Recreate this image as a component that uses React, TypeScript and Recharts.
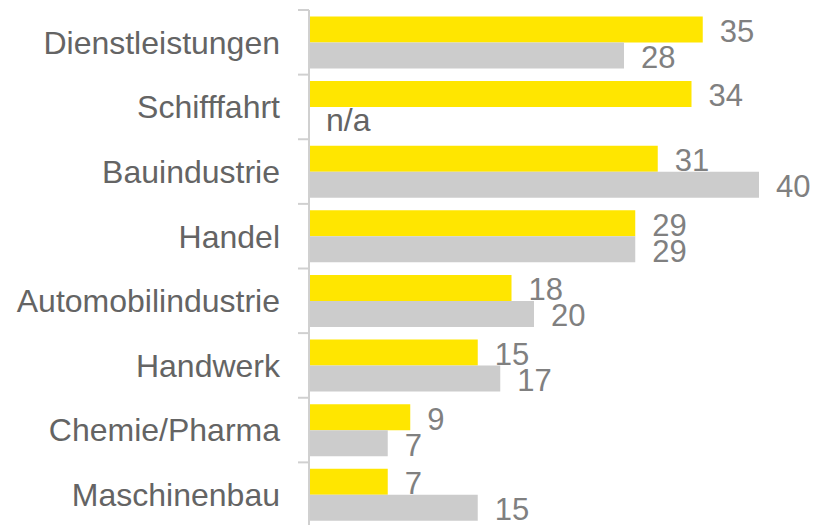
import React from 'react';
import { BarChart, Bar, XAxis, YAxis, LabelList } from 'recharts';

const categories = [
  'Dienstleistungen',
  'Schifffahrt',
  'Bauindustrie',
  'Handel',
  'Automobilindustrie',
  'Handwerk',
  'Chemie/Pharma',
  'Maschinenbau',
];
const yellowValues = [35, 34, 31, 29, 18, 15, 9, 7];
const grayValues: (number | null)[] = [28, null, 40, 29, 20, 17, 7, 15];
const missingLabel = 'n/a';

const data = categories.map((name, i) => ({
  name,
  yellow: yellowValues[i],
  gray: grayValues[i] ?? 0,
  grayLabel: grayValues[i] === null ? '' : String(grayValues[i]),
}));

const FONT = 'Liberation Sans, Arial, sans-serif';
const TICK_MARGIN = 29;
const TICK_LEN = 11;
const LABEL_OFFSET = 17;
const AXIS_COLOR = '#d0d0d0';
const CAT_COLOR = '#646464';
const NUM_COLOR = '#808080';

const CategoryTick = (props: any) => {
  const { x, y, payload } = props;
  const axisX = x + TICK_MARGIN;
  const off = payload.offset ?? 0;
  const isLast = payload.index === categories.length - 1;
  return (
    <g>
      <line x1={axisX - TICK_LEN} x2={axisX} y1={y - off} y2={y - off} stroke={AXIS_COLOR} strokeWidth={2} />
      {isLast && (
        <line x1={axisX - TICK_LEN} x2={axisX} y1={y + off} y2={y + off} stroke={AXIS_COLOR} strokeWidth={2} />
      )}
      <text x={x} y={y} dy="0.355em" textAnchor="end" fill={CAT_COLOR} fontSize={32} fontFamily={FONT}>
        {payload.value}
      </text>
    </g>
  );
};

const ValueLabel = (props: any) => {
  const { x, y, width, height, value } = props;
  if (value === '' || value === null || value === undefined) return null;
  return (
    <text
      x={x + width + LABEL_OFFSET}
      y={y + height / 2}
      dy="0.4em"
      textAnchor="start"
      fill={NUM_COLOR}
      fontSize={31}
      fontFamily={FONT}
    >
      {value}
    </text>
  );
};

// Yellow label; also places the "n/a" marker in the (empty) gray slot below it.
const YellowLabel = (props: any) => {
  const { x, y, height, index } = props;
  const missing = index !== undefined && grayValues[index] === null;
  return (
    <g>
      <ValueLabel {...props} />
      {missing && (
        <text
          x={x + LABEL_OFFSET}
          y={y + height * 1.5}
          dy="0.355em"
          textAnchor="start"
          fill={CAT_COLOR}
          fontSize={32}
          fontFamily={FONT}
        >
          {missingLabel}
        </text>
      )}
    </g>
  );
};

export default function App() {
  return (
    <div style={{ position: 'absolute', left: 0, top: 0, width: 816, height: 525, overflow: 'hidden', background: '#fff' }}>
      <BarChart
        width={816}
        height={540}
        data={data}
        layout="vertical"
        margin={{ top: 10, right: 57, bottom: 13, left: 0 }}
        barCategoryGap="10%"
        barGap={0}
      >
        <XAxis type="number" domain={[0, 40]} hide />
        <YAxis
          type="category"
          dataKey="name"
          width={309}
          tickLine={false}
          tickSize={0}
          tickMargin={TICK_MARGIN}
          axisLine={{ stroke: AXIS_COLOR, strokeWidth: 2 }}
          tick={<CategoryTick />}
          interval={0}
        />
        <Bar dataKey="yellow" fill="#FFE600" isAnimationActive={false}>
          <LabelList dataKey="yellow" content={<YellowLabel />} />
        </Bar>
        <Bar dataKey="gray" fill="#CCCCCC" isAnimationActive={false}>
          <LabelList dataKey="grayLabel" content={<ValueLabel />} />
        </Bar>
      </BarChart>
    </div>
  );
}
